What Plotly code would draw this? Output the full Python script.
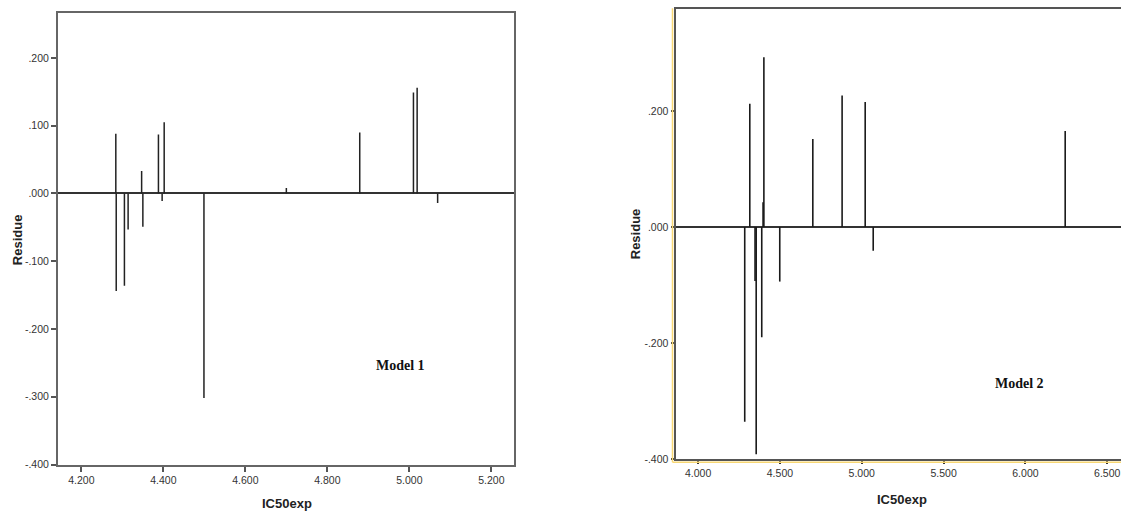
import plotly.graph_objects as go

W, H = 1121, 516

# ---------------- data ----------------
m1_x = [4.284, 4.285, 4.305, 4.314, 4.347, 4.350, 4.388, 4.397, 4.402, 4.499, 4.700, 4.879, 5.010, 5.019, 5.069]
m1_res = [0.088, -0.144, -0.136, -0.053, 0.033, -0.049, 0.087, -0.011, 0.105, -0.302, 0.008, 0.090, 0.149, 0.156, -0.014]

m2_x = [4.285, 4.316, 4.348, 4.355, 4.389, 4.397, 4.402, 4.499, 4.701, 4.880, 5.021, 5.070, 6.243]
m2_res = [-0.336, 0.213, -0.093, -0.392, -0.190, 0.043, 0.293, -0.094, 0.152, 0.227, 0.216, -0.041, 0.166]

m1_xticks = [4.2, 4.4, 4.6, 4.8, 5.0, 5.2]
m1_xtick_text = ["4.200", "4.400", "4.600", "4.800", "5.000", "5.200"]
m1_yticks = [0.2, 0.1, 0.0, -0.1, -0.2, -0.3, -0.4]
m1_ytick_text = [".200", ".100", ".000", "-.100", "-.200", "-.300", "-.400"]

m2_xticks = [4.0, 4.5, 5.0, 5.5, 6.0, 6.5]
m2_xtick_text = ["4.000", "4.500", "5.000", "5.500", "6.000", "6.500"]
m2_yticks = [0.2, 0.0, -0.2, -0.4]
m2_ytick_text = [".200", ".000", "-.200", "-.400"]


def stems(xs, ys):
    sx, sy = [], []
    for x, y in zip(xs, ys):
        sx += [x, x, None]
        sy += [0, y, None]
    return sx, sy


fig = go.Figure()
x1, y1 = stems(m1_x, m1_res)
fig.add_trace(go.Scatter(x=x1, y=y1, mode="lines", line=dict(color="#222222", width=1.5),
                         xaxis="x", yaxis="y", showlegend=False, hoverinfo="skip"))
x2, y2 = stems(m2_x, m2_res)
fig.add_trace(go.Scatter(x=x2, y=y2, mode="lines", line=dict(color="#1a1a1a", width=1.6),
                         xaxis="x2", yaxis="y2", showlegend=False, hoverinfo="skip"))

# panel geometry in pixels
L1, R1, T1, B1 = 58.0, 514.3, 12.7, 470.0
L2, R2, T2, B2 = 675.5, 1121.0, 9.3, 464.3

def px(v):
    return v / W

def py(v):
    return 1 - v / H

tickfont = dict(family="Liberation Sans, Arial, sans-serif", size=10.5, color="#333333")

fig.update_layout(
    width=W, height=H,
    margin=dict(l=0, r=0, t=0, b=0),
    paper_bgcolor="white", plot_bgcolor="white",
    xaxis=dict(domain=[px(L1), px(R1)], range=[4.143, 5.256], anchor="y",
               tickvals=m1_xticks, ticktext=m1_xtick_text, tickfont=tickfont,
               ticks="outside", ticklen=5, tickcolor="#555", tickwidth=1.5,
               showgrid=False, zeroline=False, showline=True, linecolor="#666",
               linewidth=2, mirror=True),
    yaxis=dict(domain=[py(B1), py(T1)], range=[-0.4, 0.267], anchor="x",
               tickvals=m1_yticks, ticktext=m1_ytick_text, tickfont=tickfont,
               ticks="outside", ticklen=5, tickcolor="#555", tickwidth=1.5,
               showgrid=False, zeroline=True, zerolinecolor="#333", zerolinewidth=1.6,
               showline=True, linecolor="#666", linewidth=2, mirror=True),
    xaxis2=dict(domain=[px(L2), 1.0], range=[3.862, 6.584], anchor="y2",
                tickvals=m2_xticks, ticktext=m2_xtick_text, tickfont=tickfont,
                ticks="outside", ticklen=3, tickcolor="#333", tickwidth=1.5,
                showgrid=False, zeroline=False, showline=True, linecolor="#555",
                linewidth=2, mirror=True),
    yaxis2=dict(domain=[py(B2), py(T2)], range=[-0.4, 0.376], anchor="x2",
                tickvals=m2_yticks, ticktext=m2_ytick_text, tickfont=tickfont,
                ticks="outside", ticklen=3, tickcolor="#333", tickwidth=1.5,
                showgrid=False, zeroline=True, zerolinecolor="#333", zerolinewidth=1.6,
                showline=True, linecolor="#555", linewidth=2),
)

# yellow frame lines on the right panel
fig.add_shape(type="line", xref="paper", yref="paper",
              x0=px(672.5), x1=px(672.5), y0=py(8.3), y1=py(467.7),
              line=dict(color="#f7d774", width=1.5))
fig.add_shape(type="line", xref="paper", yref="paper",
              x0=px(672.5), x1=1.0, y0=py(467.7), y1=py(467.7),
              line=dict(color="#f7d774", width=1.5))

title_font = dict(family="Liberation Sans, Arial, sans-serif", size=13, color="#222")
ann = [
    dict(text="<b>Residue</b>", x=px(17), y=py(243), textangle=-90),
    dict(text="<b>IC50exp</b>", x=px(287), y=py(509)),
    dict(text="<b>Residue</b>", x=px(635), y=py(237), textangle=-90),
    dict(text="<b>IC50exp</b>", x=px(902), y=py(505)),
]
for a in ann:
    fig.add_annotation(xref="paper", yref="paper", showarrow=False,
                       font=title_font, xanchor="center", yanchor="middle", **a)

model_font = dict(family="Liberation Serif, Times New Roman, serif", size=14, color="#111")
fig.add_annotation(xref="paper", yref="paper", x=px(400), y=py(370), text="<b>Model 1</b>",
                   showarrow=False, font=model_font, xanchor="center", yanchor="middle")
fig.add_annotation(xref="paper", yref="paper", x=px(1019), y=py(388), text="<b>Model 2</b>",
                   showarrow=False, font=model_font, xanchor="center", yanchor="middle")

fig.write_html("out.html",
               config={"displayModeBar": False},
               post_script="document.body.style.margin='0';document.body.style.overflow='hidden';")
